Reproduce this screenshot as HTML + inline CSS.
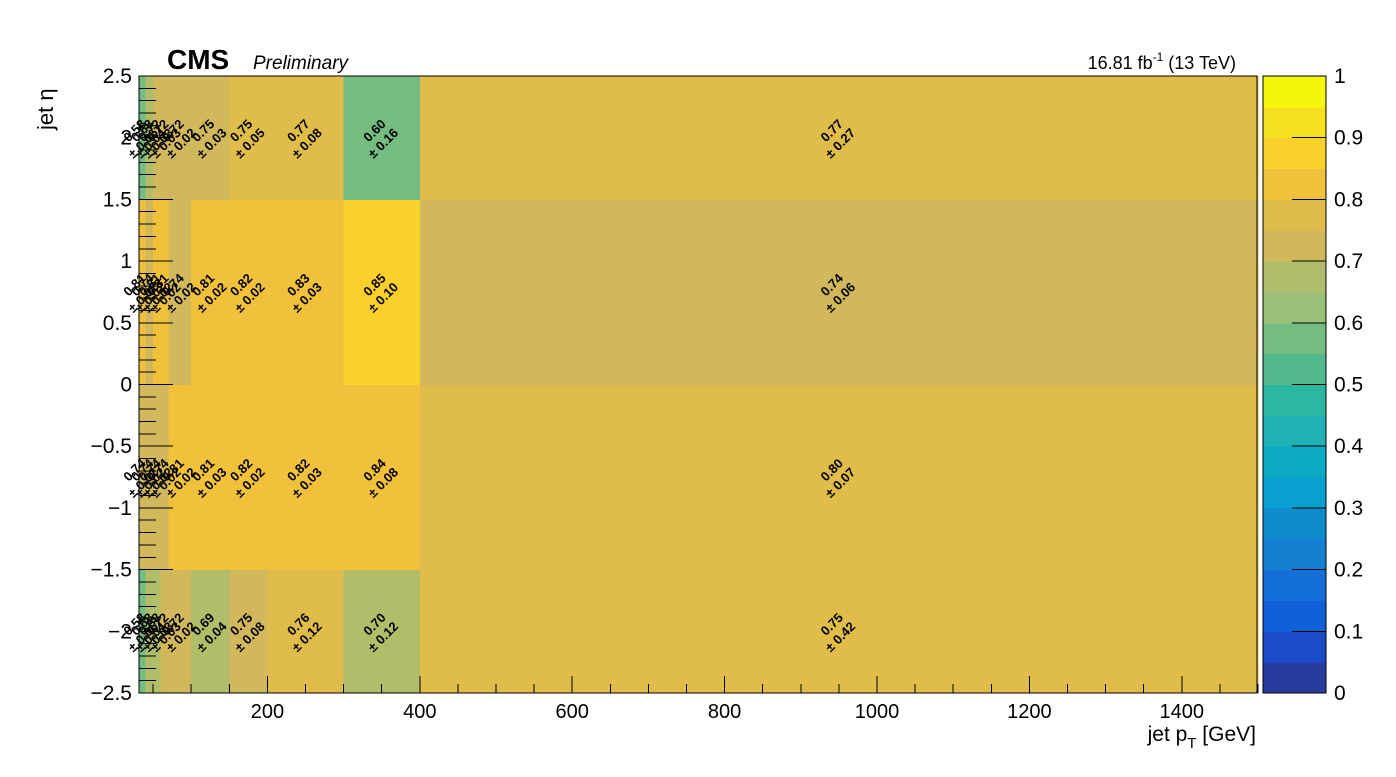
<!DOCTYPE html>
<html><head><meta charset="utf-8"><style>
body{margin:0;background:#fff;}
svg text{font-family:"Liberation Sans",sans-serif;}
</style></head><body>
<svg id="c" width="1396" height="772" xmlns="http://www.w3.org/2000/svg">
<g id="cells" shape-rendering="crispEdges"></g><g id="labels"></g><g id="axes" shape-rendering="crispEdges"></g><g id="cbar" shape-rendering="crispEdges"></g>
<text x="167" y="69" font-size="28" font-weight="bold">CMS</text>
<text x="253" y="69" font-size="19" font-style="italic">Preliminary</text>
<text x="1236" y="69" font-size="18" text-anchor="end">16.81 fb<tspan dy="-8" font-size="12">-1</tspan><tspan dy="8"> (13 TeV)</tspan></text>
<text transform="translate(53,130) rotate(-90)" font-size="22">jet η</text>
<text x="1256" y="741" font-size="21" text-anchor="end">jet p<tspan dy="7" font-size="15">T</tspan><tspan dy="-7"> [GeV]</tspan></text>
</svg>
<script>
const xEdges=[30,40,50,60,70,100,150,200,300,400,1500];
const yEdges=[-2.5,-1.5,0,1.5,2.5];
const effRow0=[0.58,0.68,0.68,0.72,0.72,0.69,0.748,0.76,0.699,0.752];
const errRow0=[0.05,0.04,0.03,0.03,0.02,0.04,0.08,0.12,0.12,0.42];
const effRow1=[0.74,0.74,0.74,0.74,0.81,0.81,0.82,0.82,0.84,0.799];
const errRow1=[0.02,0.02,0.02,0.02,0.02,0.03,0.02,0.03,0.08,0.07];
const effRow2=[0.81,0.74,0.81,0.81,0.74,0.81,0.82,0.83,0.85,0.74];
const errRow2=[0.02,0.02,0.02,0.02,0.02,0.02,0.02,0.03,0.10,0.06];
const effRow3=[0.58,0.68,0.72,0.72,0.72,0.748,0.752,0.77,0.598,0.77];
const errRow3=[0.05,0.04,0.03,0.03,0.02,0.03,0.05,0.08,0.16,0.27];
const palette=["#283ca0","#1a4cc8","#1060d8","#1470d8","#1480d2","#0e8ccc","#08a0d0","#0aaac4","#1eb2b4","#2cb8a0","#52ba8e","#74bc80","#98c078","#b2bd6a","#d2b85c","#e0bc4a","#f2c13c","#fcd02a","#f5e01e","#f6f50c"];
const zTicks=[0,0.1,0.2,0.3,0.4,0.5,0.6,0.7,0.8,0.9,1];
const xTicks=[200,400,600,800,1000,1200,1400];
const yTicks=[-2.5,-2,-1.5,-1,-0.5,0,0.5,1,1.5,2,2.5];
const rows=[[effRow0,errRow0],[effRow1,errRow1],[effRow2,errRow2],[effRow3,errRow3]];
const NS="http://www.w3.org/2000/svg";
const X=v=>115+v*0.762, Y=v=>384.5-v*123.4;
const Z=v=>693-v*617;
function col(v){let i=Math.floor(v*20);if(i<0)i=0;if(i>19)i=19;return palette[i];}
function mk(t,a,p){const e=document.createElementNS(NS,t);for(const k in a)e.setAttribute(k,a[k]);p.appendChild(e);return e;}
const cells=document.getElementById('cells'),labels=document.getElementById('labels'),axes=document.getElementById('axes'),cb=document.getElementById('cbar');
rows.forEach((r,j)=>{r[0].forEach((v,i)=>{
 const x0=Math.max(139,X(xEdges[i])),x1=X(xEdges[i+1]),y0=Y(yEdges[j+1]),y1=Y(yEdges[j]);
 const rc=mk('rect',{x:x0,y:y0,width:x1-x0+0.5,height:y1-y0+0.5,fill:col(v)},cells);
 
 
 const cx=(X(xEdges[i])+x1)/2-4,cy=(y0+y1)/2-4;
 const g=mk('g',{transform:`translate(${cx},${cy}) rotate(-45)`},labels);
 
 
 mk('text',{x:0,y:0,'font-size':13,'font-weight':'bold','text-anchor':'middle'},g).textContent=v.toFixed(2);
 mk('text',{x:-3,y:15,'font-size':13,'font-weight':'bold','text-anchor':'middle'},g).textContent='± '+r[1][i].toFixed(2);
});});
mk('rect',{x:139,y:76,width:1118,height:617,fill:'none',stroke:'#000','stroke-width':1},axes);
for(let v=50;v<=1500;v+=50){const x=X(v);if(x<139)continue;const maj=v%200==0;mk('line',{x1:x,x2:x,y1:693,y2:maj?676:684,stroke:'#000'},axes);}
xTicks.forEach(v=>{const t=mk('text',{x:X(v),y:718,'font-size':20,'text-anchor':'middle'},axes);t.textContent=v;
 
 });
for(let k=-25;k<=25;k++){const v=k/10,y=Y(v);const maj=k%5==0;mk('line',{x1:139,x2:maj?173:156,y1:y,y2:y,stroke:'#000'},axes);}
yTicks.forEach(v=>{const t=mk('text',{x:132,y:Y(v)+7,'font-size':21,'text-anchor':'end'},axes);t.textContent=String(v).replace('-','−');
 
 });
palette.forEach((c,i)=>{const r=mk('rect',{x:1263,y:Z((i+1)/20),width:63,height:617/20+0.5,fill:c},cb);
 
 });
mk('rect',{x:1263,y:76,width:63,height:617,fill:'none',stroke:'#000','stroke-width':0.8},cb);
zTicks.forEach(v=>{mk('line',{x1:1292,x2:1326,y1:Z(v),y2:Z(v),stroke:'#000'},cb);
 const t=mk('text',{x:1334,y:Z(v)+7,'font-size':21},cb);t.textContent=String(v);
 
 });
</script>
</body></html>
